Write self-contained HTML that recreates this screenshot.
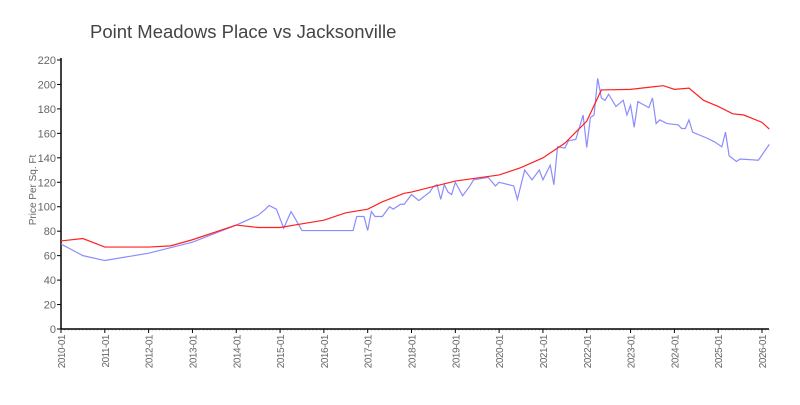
<!DOCTYPE html>
<html><head><meta charset="utf-8"><style>
body{margin:0;background:#fff;}
svg text{font-family:"Liberation Sans",sans-serif;fill:#666;}
</style></head><body>
<svg id="chart" width="800" height="400" xmlns="http://www.w3.org/2000/svg">
<rect width="800" height="400" fill="#fff"/>
<text x="90" y="38" font-size="18.5" style="fill:#444">Point Meadows Place vs  Jacksonville</text>
<text transform="translate(36,190) rotate(-90)" text-anchor="middle" font-size="10">Price Per Sq. Ft</text>
<g id="axes"></g>
<g id="series"></g>
</svg>
<script>
const yTicks=[0,20,40,60,80,100,120,140,160,180,200,220];
const xTickLabels=["2010-01","2011-01","2012-01","2013-01","2014-01","2015-01","2016-01","2017-01","2018-01","2019-01","2020-01","2021-01","2022-01","2023-01","2024-01","2025-01","2026-01"];
const redMonths=[0,6,12,24,30,36,47,48,54,60,66,72,78,84,88,94,96,108,120,126,132,138,144,148,156,162,165,168,172,176,180,184,187,192,194];
const redValues=[72,74,67,67,68,73,84,85,83,83,86,89,95,98,104,111,112,121,126,132,140,152,170,195.5,196,198,199,196,197,187,182,176,175,169,163.5];
const blueMonths=[0,6,12,24,36,48,54,56,57,59,61,63,64,66,80,81,83,84,85,86,88,90,91,93,94,96,98,101,102,103,104,105,106,107,108,110,112,113,117,119,120,124,125,127,129,131,132,134,135,136,138,139,141,143,144,145,146,147,148,149,150,152,154,155,156,157,158,161,162,163,164,166,169,170,171,172,173,177,179,181,182,183,185,186,191,194];
const blueValues=[69.5,60,56,62,71,85,93,98,101,98,82.5,96,91,80.5,80.5,92,92,80.5,96,92,92,100,98,102,102,110,105,112,116.5,118,106,118,112,110,120,109,117,122,124,117,120,117,106,130,122,130,122,134,118,149,148,154,155,175,148.5,173,175,205,189,187,192,182,187,175,183,165,186,181,189,168,171,168,167,164,164,171,161,156,153,149,161,141.7,137,139,138,151];
const X0=61,X1=762,Y0=329,Y1=60;
const xs=m=>X0+(m/192)*(X1-X0);
const ys=v=>Y0-(v/220)*(Y0-Y1);
const NS="http://www.w3.org/2000/svg";
const axes=document.getElementById('axes'),series=document.getElementById('series');
function mk(tag,attrs,parent){const e=document.createElementNS(NS,tag);for(const k in attrs)e.setAttribute(k,attrs[k]);parent.appendChild(e);return e;}
for(let m=0;m<=194;m++){
  if(m%12!==0) mk('line',{x1:xs(m),y1:Y0,x2:xs(m),y2:Y0+2,stroke:'#ccc','stroke-width':0.8},axes);
}
let yl=mk('line',{x1:X0,y1:Y1-2,x2:X0,y2:Y0,stroke:'#000','stroke-width':1.5},axes);


let xl=mk('line',{x1:X0,y1:Y0,x2:769,y2:Y0,stroke:'#000','stroke-width':1.5},axes);


yTicks.forEach(v=>{
  mk('line',{x1:X0-4,y1:ys(v),x2:X0,y2:ys(v),stroke:'#000'},axes);
  const t=mk('text',{x:X0-5,y:ys(v)+4,'text-anchor':'end','font-size':11},axes);
  t.textContent=v;
  
  
});
xTickLabels.forEach((lab,i)=>{
  const x=xs(i*12);
  mk('line',{x1:x,y1:Y0,x2:x,y2:Y0+4,stroke:'#000'},axes);
  const t=mk('text',{transform:`translate(${x+4},${Y0+6}) rotate(-90)`,'text-anchor':'end','font-size':10,style:'letter-spacing:-0.5px'},axes);
  t.textContent=lab;
  
  
});
function line(ms,vs,color,name){
  const p=mk('polyline',{points:ms.map((m,i)=>xs(m)+','+ys(vs[i])).join(' '),fill:'none',stroke:color,'stroke-width':1.2},series);
  
  
}
line(blueMonths,blueValues,'#8c8cff','point-meadows-line');
line(redMonths,redValues,'#ff2020','jacksonville-line');
</script>
</body></html>
